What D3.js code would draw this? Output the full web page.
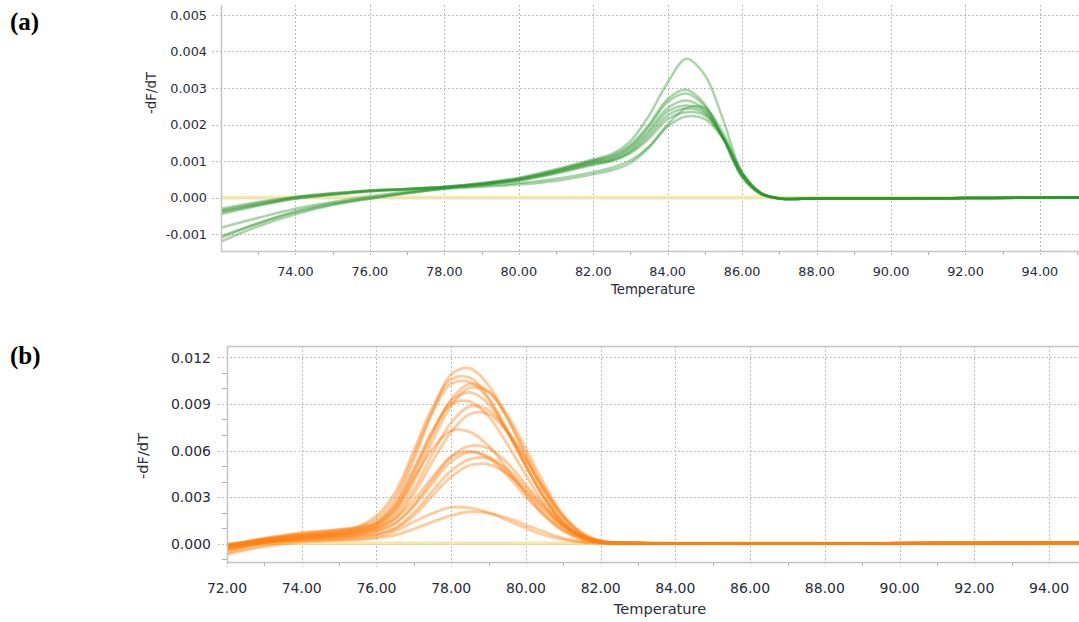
<!DOCTYPE html>
<html>
<head>
<meta charset="utf-8">
<script src="https://cdn.jsdelivr.net/npm/d3@7"></script>
<style>
body { margin: 0; background: #fff; }
text { font-family: "DejaVu Sans", sans-serif; }
</style>
</head>
<body>
<div id="viz"></div>
<script>
var w = 1079;
var h = 622;

// panel (a) -- -dF/dT read in units of 0.001
var tempA = [72, 73, 74, 75, 76, 77, 78, 79, 80, 81, 82, 82.5, 83, 83.5, 84, 84.5, 85, 85.5, 86, 86.5, 87, 88, 90, 92, 94, 95.2];
var curvesA = [
    [-0.30, -0.12, 0.02, 0.12, 0.20, 0.24, 0.30, 0.40, 0.55, 0.78, 1.05, 1.20, 1.55, 2.25, 3.15, 3.80, 3.35, 2.10, 0.68, 0.12, -0.02, -0.02, -0.02, -0.01, 0.00, 0.01],
    [-0.37, -0.18, 0.00, 0.10, 0.19, 0.24, 0.30, 0.39, 0.52, 0.75, 1.02, 1.15, 1.45, 2.00, 2.70, 2.95, 2.55, 1.60, 0.55, 0.10, -0.02, -0.02, -0.02, -0.01, 0.00, 0.01],
    [-0.40, -0.20, -0.02, 0.09, 0.18, 0.23, 0.29, 0.38, 0.52, 0.74, 1.00, 1.12, 1.40, 1.95, 2.62, 2.85, 2.50, 1.62, 0.58, 0.10, -0.02, -0.02, -0.02, -0.01, 0.00, 0.01],
    [-0.45, -0.22, -0.03, 0.08, 0.17, 0.22, 0.28, 0.37, 0.50, 0.72, 0.98, 1.08, 1.35, 1.85, 2.45, 2.66, 2.40, 1.60, 0.60, 0.12, -0.02, -0.02, -0.02, -0.01, 0.00, 0.01],
    [-0.82, -0.55, -0.30, -0.12, 0.04, 0.16, 0.27, 0.37, 0.50, 0.70, 0.95, 1.05, 1.30, 1.78, 2.35, 2.52, 2.35, 1.62, 0.62, 0.12, -0.02, -0.02, -0.02, -0.01, 0.00, 0.01],
    [-1.10, -0.70, -0.37, -0.15, 0.00, 0.14, 0.26, 0.36, 0.48, 0.68, 0.92, 1.02, 1.25, 1.70, 2.25, 2.44, 2.30, 1.65, 0.65, 0.13, -0.02, -0.02, -0.02, -0.01, 0.00, 0.01],
    [-1.20, -0.78, -0.45, -0.20, -0.03, 0.12, 0.25, 0.35, 0.47, 0.66, 0.90, 1.00, 1.22, 1.62, 2.15, 2.34, 2.25, 1.62, 0.66, 0.13, -0.02, -0.02, -0.02, -0.01, 0.00, 0.01],
    [-1.05, -0.70, -0.40, -0.18, -0.02, 0.12, 0.24, 0.30, 0.36, 0.46, 0.64, 0.75, 0.95, 1.38, 2.00, 2.45, 2.45, 1.75, 0.70, 0.14, -0.02, -0.02, -0.02, -0.01, 0.00, 0.01],
    [-0.35, -0.15, 0.02, 0.12, 0.20, 0.24, 0.28, 0.33, 0.40, 0.52, 0.70, 0.82, 1.02, 1.40, 1.95, 2.22, 2.15, 1.60, 0.65, 0.13, -0.02, -0.02, -0.02, -0.01, 0.00, 0.01]
];
var xTicksA = [74, 76, 78, 80, 82, 84, 86, 88, 90, 92, 94];
var xMinorA = [73, 75, 77, 79, 81, 83, 85, 87, 89, 91, 93, 95];
var yTicksA = [-1, 0, 1, 2, 3, 4, 5];
var yMinorA = [];

// panel (b) -- same units
var tempB = [72, 73, 74, 75, 75.5, 76, 76.5, 77, 77.5, 78, 78.5, 79, 79.5, 80, 80.5, 81, 81.5, 82, 83, 85, 88, 91, 94, 94.8];
var curvesB = [
    [-0.2, 0.25, 0.55, 0.8, 1.0, 1.4, 2.7, 5.4, 8.5, 10.9, 11.3, 10.2, 8.1, 5.6, 3.2, 1.4, 0.5, 0.1, 0.02, 0.0, 0.0, 0.02, 0.04, 0.05],
    [-0.1, 0.35, 0.7, 0.9, 1.1, 1.8, 3.3, 6.0, 8.8, 10.6, 10.7, 9.4, 7.3, 5.0, 2.9, 1.3, 0.45, 0.1, 0.02, 0.0, 0.0, 0.02, 0.04, 0.05],
    [-0.1, 0.3, 0.65, 0.9, 1.05, 1.6, 3.0, 5.7, 8.5, 10.3, 10.4, 9.3, 7.2, 5.0, 2.9, 1.3, 0.45, 0.1, 0.02, 0.0, 0.0, 0.02, 0.04, 0.05],
    [-0.3, 0.15, 0.45, 0.65, 0.85, 1.2, 2.2, 4.4, 7.0, 9.3, 10.3, 9.8, 8.1, 5.8, 3.5, 1.6, 0.55, 0.12, 0.02, 0.0, 0.0, 0.02, 0.04, 0.05],
    [-0.4, 0.1, 0.4, 0.6, 0.8, 1.1, 2.0, 4.0, 6.6, 8.9, 10.05, 9.8, 8.3, 6.1, 3.8, 1.8, 0.65, 0.15, 0.02, 0.0, 0.0, 0.02, 0.04, 0.05],
    [-0.2, 0.2, 0.5, 0.7, 0.9, 1.3, 2.4, 4.7, 7.2, 9.2, 9.75, 9.0, 7.2, 5.0, 2.9, 1.3, 0.45, 0.1, 0.02, 0.0, 0.0, 0.02, 0.04, 0.05],
    [-0.1, 0.3, 0.6, 0.8, 1.0, 1.35, 2.5, 4.8, 7.3, 9.0, 9.15, 8.2, 6.4, 4.4, 2.5, 1.1, 0.4, 0.1, 0.02, 0.0, 0.0, 0.02, 0.04, 0.05],
    [-0.5, 0.05, 0.35, 0.55, 0.7, 1.0, 1.8, 3.5, 5.8, 7.8, 8.85, 8.6, 7.3, 5.4, 3.4, 1.7, 0.6, 0.15, 0.02, 0.0, 0.0, 0.02, 0.04, 0.05],
    [-0.3, 0.1, 0.35, 0.5, 0.65, 0.9, 1.6, 3.2, 5.3, 7.2, 8.35, 8.35, 7.2, 5.4, 3.5, 1.8, 0.7, 0.18, 0.02, 0.0, 0.0, 0.02, 0.04, 0.05],
    [-0.2, 0.25, 0.5, 0.7, 0.85, 1.2, 2.2, 4.2, 6.1, 7.3, 7.2, 6.3, 4.8, 3.2, 1.8, 0.8, 0.25, 0.06, 0.02, 0.0, 0.0, 0.02, 0.04, 0.05],
    [-0.4, 0.05, 0.3, 0.45, 0.55, 0.8, 1.3, 2.5, 4.1, 5.6, 6.3, 6.15, 5.2, 3.8, 2.4, 1.2, 0.45, 0.12, 0.02, 0.0, 0.0, 0.02, 0.04, 0.05],
    [-0.1, 0.25, 0.5, 0.65, 0.75, 1.0, 1.6, 2.8, 4.3, 5.6, 5.95, 5.5, 4.4, 3.0, 1.8, 0.85, 0.3, 0.07, 0.02, 0.0, 0.0, 0.02, 0.04, 0.05],
    [-0.2, 0.15, 0.35, 0.5, 0.6, 0.8, 1.3, 2.4, 3.9, 5.3, 5.9, 5.6, 4.6, 3.3, 2.0, 0.95, 0.35, 0.08, 0.02, 0.0, 0.0, 0.02, 0.04, 0.05],
    [-0.6, -0.1, 0.2, 0.35, 0.45, 0.6, 1.0, 2.0, 3.4, 4.7, 5.45, 5.5, 4.8, 3.6, 2.3, 1.15, 0.45, 0.12, 0.02, 0.0, 0.0, 0.02, 0.04, 0.05],
    [-0.3, 0.05, 0.25, 0.35, 0.45, 0.6, 0.95, 1.8, 3.1, 4.3, 5.05, 5.1, 4.5, 3.4, 2.2, 1.1, 0.45, 0.12, 0.02, 0.0, 0.0, 0.02, 0.04, 0.05],
    [-0.2, 0.1, 0.2, 0.25, 0.3, 0.45, 0.8, 1.4, 1.95, 2.33, 2.3, 2.0, 1.5, 1.0, 0.55, 0.25, 0.08, 0.02, 0.01, 0.0, 0.0, 0.02, 0.04, 0.05],
    [-0.7, -0.2, 0.1, 0.2, 0.25, 0.35, 0.55, 0.95, 1.4, 1.8, 2.05, 1.95, 1.65, 1.2, 0.75, 0.35, 0.12, 0.03, 0.01, 0.0, 0.0, 0.02, 0.04, 0.05]
];
var xTicksB = [72, 74, 76, 78, 80, 82, 84, 86, 88, 90, 92, 94];
var xMinorB = [73, 75, 77, 79, 81, 83, 85, 87, 89, 91, 93];
var yTicksB = [0, 3, 6, 9, 12];
var yMinorB = [-1, 1, 2, 4, 5, 7, 8, 10, 11];

var svg = d3.select("#viz")
    .append("svg")
    .attr("width", w)
    .attr("height", h);

function drawPanel(p) {
    var x = d3.scaleLinear().domain(p.xDomain).range([p.left, p.right]);
    var y = d3.scaleLinear().domain(p.yDomain).range([p.bottom, p.top]);
    var g = svg.append("g");

    g.append("clipPath").attr("id", p.id + "-clip")
        .append("rect")
        .attr("x", p.left).attr("y", p.top)
        .attr("width", p.right - p.left).attr("height", p.bottom - p.top);

    // dotted grid, poking out past the axes as tick marks
    g.selectAll("line.vgrid").data(p.xTicks).enter().append("line")
        .attr("class", "vgrid")
        .attr("x1", function (d) { return Math.round(x(d)) + 0.5; })
        .attr("x2", function (d) { return Math.round(x(d)) + 0.5; })
        .attr("y1", p.top).attr("y2", p.bottom + 5)
        .attr("stroke", "#bdbdbd").attr("stroke-dasharray", "2,2");
    g.selectAll("line.hgrid").data(p.yTicks).enter().append("line")
        .attr("class", "hgrid")
        .attr("x1", p.left - 9).attr("x2", p.right)
        .attr("y1", function (d) { return Math.round(y(d)) + 0.5; })
        .attr("y2", function (d) { return Math.round(y(d)) + 0.5; })
        .attr("stroke", "#bdbdbd").attr("stroke-dasharray", "2,2");

    // minor ticks
    g.selectAll("line.xminor").data(p.xMinor).enter().append("line")
        .attr("x1", function (d) { return Math.round(x(d)) + 0.5; })
        .attr("x2", function (d) { return Math.round(x(d)) + 0.5; })
        .attr("y1", p.bottom).attr("y2", p.bottom + 4)
        .attr("stroke", "#b0b0b0");
    g.selectAll("line.yminor").data(p.yMinor).enter().append("line")
        .attr("x1", p.left - 5).attr("x2", p.left)
        .attr("y1", function (d) { return Math.round(y(d)) + 0.5; })
        .attr("y2", function (d) { return Math.round(y(d)) + 0.5; })
        .attr("stroke", "#b0b0b0");

    // baseline at zero
    g.append("line")
        .attr("x1", p.left).attr("x2", p.right)
        .attr("y1", y(0) + 1).attr("y2", y(0) + 1)
        .attr("stroke", "#c8c8c8");
    g.append("line")
        .attr("x1", p.left).attr("x2", p.right)
        .attr("y1", y(0) - 0.5).attr("y2", y(0) - 0.5)
        .attr("stroke", "#f6e8a6").attr("stroke-width", 3);

    var line = d3.line()
        .x(function (d) { return x(d[0]); })
        .y(function (d) { return y(d[1]); })
        .curve(d3.curveCatmullRom.alpha(0.5));

    g.append("g").attr("clip-path", "url(#" + p.id + "-clip)")
        .selectAll("path").data(p.curves).enter().append("path")
        .attr("d", function (vals) { return line(d3.zip(p.temps, vals)); })
        .attr("fill", "none")
        .attr("stroke", p.color)
        .attr("stroke-opacity", p.opacity)
        .attr("stroke-width", p.width)
        .attr("stroke-linejoin", "round");

    // frame
    g.append("line")
        .attr("x1", p.left + 0.5).attr("x2", p.left + 0.5)
        .attr("y1", p.top).attr("y2", p.bottom + 0.5)
        .attr("stroke", "#c4c4c4").attr("stroke-width", 1.5);
    g.append("line")
        .attr("x1", p.left).attr("x2", p.right)
        .attr("y1", p.bottom + 0.5).attr("y2", p.bottom + 0.5)
        .attr("stroke", "#c4c4c4").attr("stroke-width", 1.5);
    if (p.frameTop) {
        g.append("line")
            .attr("x1", p.left).attr("x2", p.right)
            .attr("y1", p.top + 0.5).attr("y2", p.top + 0.5)
            .attr("stroke", "#c4c4c4").attr("stroke-width", 1.5);
    }

    // tick labels
    g.selectAll("text.xlab").data(p.xTicks).enter().append("text")
        .attr("x", function (d) { return x(d); })
        .attr("y", p.bottom + p.xLabDy)
        .attr("text-anchor", "middle")
        .attr("font-size", p.tickSize).attr("fill", "#2a2a35")
        .text(function (d) { return d.toFixed(2); });
    g.selectAll("text.ylab").data(p.yTicks).enter().append("text")
        .attr("x", p.labelRight)
        .attr("y", function (d) { return y(d) + p.tickSize * 0.37; })
        .attr("text-anchor", "end")
        .attr("font-size", p.tickSize).attr("fill", "#2a2a35")
        .text(function (d) { return (d / 1000).toFixed(3); });

    g.append("text")
        .attr("x", p.titleX).attr("y", p.titleY)
        .attr("text-anchor", "middle")
        .attr("font-size", p.titleSize).attr("fill", "#2a2a35")
        .text("Temperature");
    g.append("text")
        .attr("transform", "translate(" + p.yTitleX + "," + p.yTitleY + ") rotate(-90)")
        .attr("text-anchor", "middle")
        .attr("font-size", p.titleSize).attr("fill", "#2a2a35")
        .text("-dF/dT");

    g.append("text")
        .attr("x", 10).attr("y", p.tagY)
        .style("font-family", "'Liberation Serif', 'Times New Roman', serif")
        .attr("font-weight", "bold").attr("font-size", 25)
        .attr("fill", "#000")
        .text(p.tag);
}

drawPanel({
    id: "a", tag: "(a)", tagY: 30,
    temps: tempA, curves: curvesA,
    xTicks: xTicksA, xMinor: xMinorA, yTicks: yTicksA, yMinor: yMinorA,
    xDomain: [72, 95.05], yDomain: [-1.457, 5.27],
    left: 221, right: 1079, top: 5, bottom: 251,
    frameTop: false, labelRight: 207,
    tickSize: 12.8, xLabDy: 24.5, titleSize: 13.3, titleX: 653, titleY: 294,
    yTitleX: 156, yTitleY: 93,
    color: "#2a962a", opacity: 0.4, width: 2.5
});

drawPanel({
    id: "b", tag: "(b)", tagY: 364,
    temps: tempB, curves: curvesB,
    xTicks: xTicksB, xMinor: xMinorB, yTicks: yTicksB, yMinor: yMinorB,
    xDomain: [72, 94.8], yDomain: [-1.19, 12.74],
    left: 227, right: 1079, top: 346, bottom: 562,
    frameTop: true, labelRight: 211,
    tickSize: 14, xLabDy: 31, titleSize: 14.6, titleX: 660, titleY: 614,
    yTitleX: 148, yTitleY: 456,
    color: "#ff7f0e", opacity: 0.4, width: 2.8
});
</script>
</body>
</html>
